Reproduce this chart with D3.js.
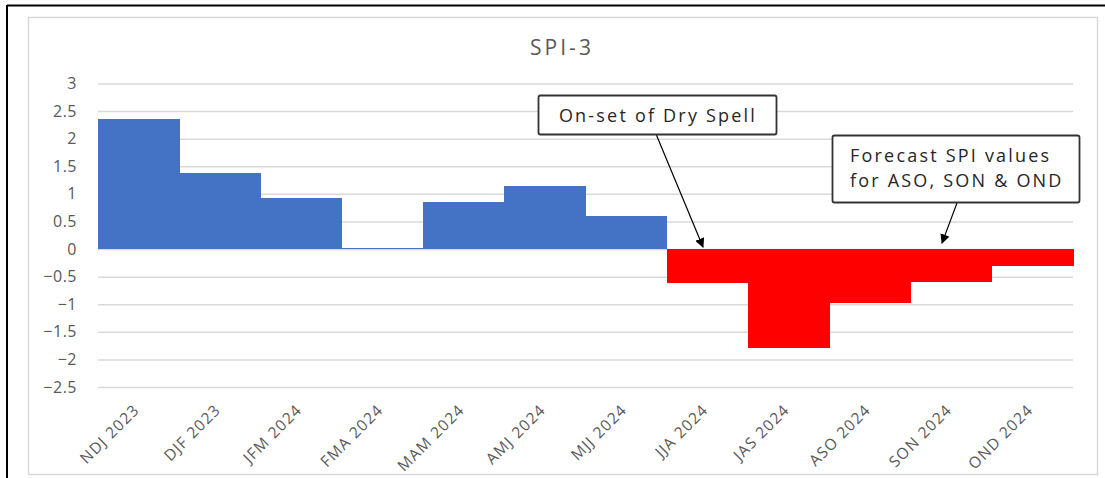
<!DOCTYPE html>
<html>
<head>
<meta charset="utf-8">
<script src="https://cdn.jsdelivr.net/npm/d3@7"></script>
<style>
  html, body { margin: 0; padding: 0; background: #fff; }
  svg { display: block; }
</style>
</head>
<body>
<svg id="chart" width="1105" height="478"></svg>
<script>
const categories = ["NDJ 2023", "DJF 2023", "JFM 2024", "FMA 2024", "MAM 2024", "AMJ 2024",
                    "MJJ 2024", "JJA 2024", "JAS 2024", "ASO 2024", "SON 2024", "OND 2024"];
const spiValues = [2.35, 1.38, 0.92, 0.02, 0.86, 1.15, 0.6, -0.61, -1.8, -0.97, -0.59, -0.3];
const yTickValues = [3, 2.5, 2, 1.5, 1, 0.5, 0, -0.5, -1, -1.5, -2, -2.5];
const chartTitle = "SPI-3";
const note1 = ["On-set of Dry Spell"];
const note2 = ["Forecast SPI values", "for ASO, SON & OND"];

const svg = d3.select("#chart");
const font = "'Open Sans', 'Noto Sans', sans-serif";

// frame
svg.append("rect").attr("x", 28.5).attr("y", 17.5).attr("width", 1069).attr("height", 457)
  .attr("fill", "#fff").attr("stroke", "#d9d9d9").attr("stroke-width", 1.5);
svg.append("line").attr("x1", 7).attr("x2", 1105).attr("y1", 5.5).attr("y2", 5.5)
  .attr("stroke", "#000").attr("stroke-width", 2);
svg.append("line").attr("x1", 7).attr("x2", 7).attr("y1", 5).attr("y2", 478)
  .attr("stroke", "#000").attr("stroke-width", 2);

const x = d3.scaleBand().domain(categories).range([98, 1073]).padding(0);
const y = d3.scaleLinear().domain([-2.5, 3]).range([387, 83.5]);

// gridlines
svg.append("g")
  .attr("transform", "translate(98,0)")
  .call(d3.axisLeft(y).tickValues(yTickValues).tickSize(-975).tickFormat(""))
  .call(g => g.select(".domain").remove())
  .call(g => g.selectAll("line").attr("stroke", "#d9d9d9").attr("stroke-width", 1.5));

// y labels
svg.append("g")
  .attr("transform", "translate(82,0)")
  .call(d3.axisLeft(y).tickValues(yTickValues).tickSize(0).tickFormat(d3.format("")))
  .call(g => g.select(".domain").remove())
  .call(g => g.selectAll("text").attr("fill", "#595959").attr("font-size", "16px")
      .attr("font-family", font).attr("x", -5).attr("letter-spacing", "0.5px"));

// bars
svg.append("g").attr("shape-rendering", "crispEdges")
  .selectAll("rect").data(spiValues).join("rect")
  .attr("x", (d, i) => x(categories[i]))
  .attr("width", x.bandwidth() + 0.6)
  .attr("y", d => y(Math.max(0, d)))
  .attr("height", d => Math.max(1.5, Math.abs(y(d) - y(0))))
  .attr("fill", d => d >= 0 ? "#4472c4" : "#ff0000");

// x labels
svg.append("g").selectAll("text").data(categories).join("text")
  .attr("transform", d => `translate(${x(d) + x.bandwidth() / 2 - 2},${407}) rotate(-45)`)
  .attr("text-anchor", "end")
  .attr("dy", "0.35em")
  .attr("fill", "#595959").attr("font-size", "15.5px").attr("font-family", font)
  .attr("letter-spacing", "1.2px")
  .text(d => d);

// title
svg.append("text").attr("x", 562).attr("y", 55).attr("text-anchor", "middle")
  .attr("fill", "#595959").attr("font-size", "21px").attr("font-family", font)
  .attr("letter-spacing", "3px")
  .text(chartTitle);

// arrow marker
svg.append("defs").append("marker")
  .attr("id", "arrow").attr("viewBox", "0 0 10 10").attr("refX", 9).attr("refY", 5)
  .attr("markerWidth", 8).attr("markerHeight", 8).attr("orient", "auto")
  .append("path").attr("d", "M0,0 L10,5 L0,10 z").attr("fill", "#000");

// annotation 1
svg.append("line").attr("x1", 656).attr("y1", 134).attr("x2", 703).attr("y2", 247)
  .attr("stroke", "#000").attr("stroke-width", 1.2).attr("marker-end", "url(#arrow)");
svg.append("rect").attr("x", 538.5).attr("y", 95.5).attr("width", 238).attr("height", 39)
  .attr("rx", 2).attr("fill", "#fff").attr("stroke", "#333").attr("stroke-width", 1.8);
svg.append("text").attr("x", 658).attr("y", 122).attr("text-anchor", "middle")
  .attr("fill", "#262626").attr("font-size", "18px").attr("font-family", font)
  .attr("letter-spacing", "2.2px")
  .text(note1[0]);

// annotation 2
svg.append("line").attr("x1", 957).attr("y1", 203).attr("x2", 942).attr("y2", 243)
  .attr("stroke", "#000").attr("stroke-width", 1.2).attr("marker-end", "url(#arrow)");
svg.append("rect").attr("x", 832.5).attr("y", 135.5).attr("width", 247).attr("height", 67)
  .attr("rx", 2).attr("fill", "#fff").attr("stroke", "#333").attr("stroke-width", 1.8);
svg.append("g").selectAll("text").data(note2).join("text")
  .attr("x", 850).attr("y", (d, i) => 162 + i * 25)
  .attr("fill", "#262626").attr("font-size", "18px").attr("font-family", font)
  .attr("letter-spacing", "2.2px")
  .text(d => d);
</script>
</body>
</html>
